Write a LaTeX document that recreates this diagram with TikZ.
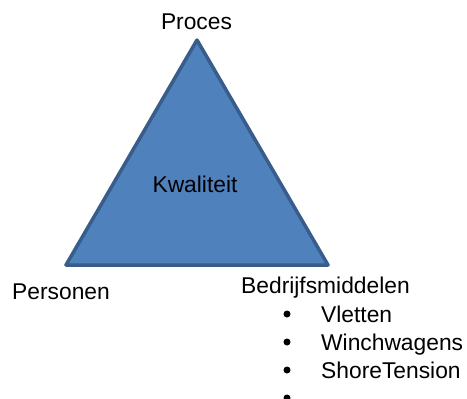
\documentclass[tikz,border=0pt]{standalone}
\usepackage{fontspec}
\setmainfont{Liberation Sans}
\definecolor{trifill}{HTML}{4F81BD}
\definecolor{triline}{HTML}{385D8A}
\begin{document}
\begin{tikzpicture}[x=1pt,y=-1pt,
  lbl/.style={inner sep=0pt,anchor=base west,font=\fontsize{22.8}{26}\selectfont},
  lblc/.style={inner sep=0pt,anchor=base,font=\fontsize{22.8}{26}\selectfont},
  bul/.style={circle,fill=black,inner sep=0pt,minimum size=7pt}]
\useasboundingbox (0,0) rectangle (467,399);
\coordinate (apex) at (197,40);
\coordinate (bl) at (66,265);
\coordinate (br) at (328,265);
\draw[fill=trifill,draw=triline,line width=3.5pt,line join=round] (apex) -- (br) -- (bl) -- cycle;
\node[lblc] (proces) at (196.5,29) {Proces};
\node[lblc] (kwal) at (195,192) {Kwaliteit};
\node[lbl] (pers) at (12,299) {Personen};
\node[lbl] (bedr) at (241,293) {Bedrijfsmiddelen};
\node[bul] (b1) at (287,314) {};
\node[lbl] (vl) at (321,322) {Vletten};
\node[bul] (b2) at (287,342) {};
\node[lbl] (wi) at (321,350) {Winchwagens};
\node[bul] (b3) at (287,370) {};
\node[lbl] (sh) at (321,378) {ShoreTension};
\node[bul] (b4) at (287,398) {};
\end{tikzpicture}
\end{document}
